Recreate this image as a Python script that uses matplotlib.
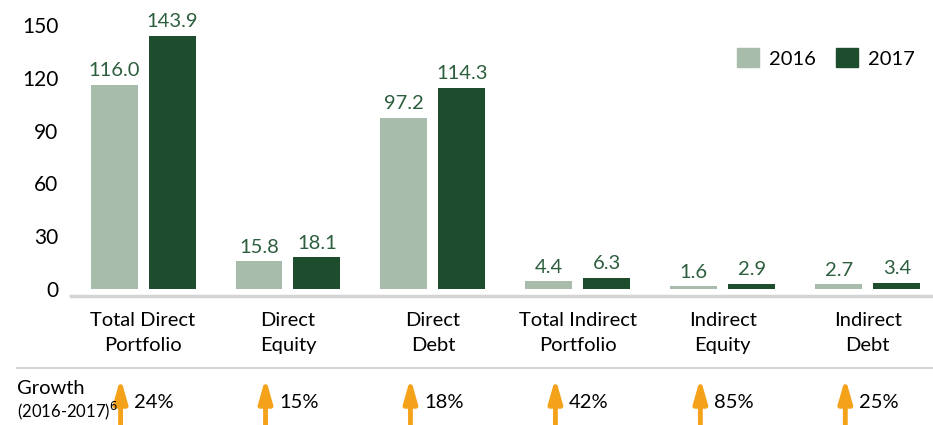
import matplotlib.pyplot as plt
from matplotlib.patches import Patch

plt.rcParams['font.family'] = ['Lato', 'DejaVu Sans']

# Data
categories = ['Total Direct\nPortfolio', 'Direct\nEquity', 'Direct\nDebt',
              'Total Indirect\nPortfolio', 'Indirect\nEquity', 'Indirect\nDebt']
values_2016 = [116.0, 15.8, 97.2, 4.4, 1.6, 2.7]
values_2017 = [143.9, 18.1, 114.3, 6.3, 2.9, 3.4]
growth = ['24%', '15%', '18%', '42%', '85%', '25%']
yticks = [0, 30, 60, 90, 120, 150]

c16 = '#a8bcac'
c17 = '#1e4d2d'
label_col = '#2d5e3e'
arrow_col = '#f5a21b'

fig = plt.figure(figsize=(9.33, 4.25), dpi=100)
ax = fig.add_axes([71 / 933, (425 - 296) / 425, 1 - 71 / 933, 286 / 425])

x = range(len(categories))
w = 0.324
off = 0.2
b16 = ax.bar([i - off for i in x], values_2016, width=w, color=c16)
b17 = ax.bar([i + off for i in x], values_2017, width=w, color=c17)

for bars, vals in ((b16, values_2016), (b17, values_2017)):
    for b, v in zip(bars, vals):
        ax.annotate(f'{v:.1f}', (b.get_x() + b.get_width() / 2, v),
                    xytext=(0, 4), textcoords='offset points',
                    ha='center', va='bottom', fontsize=14.5, color=label_col)

ax.set_xlim(-0.497, 5.45)
ax.set_ylim(-4, 158.5)
ax.set_yticks(yticks)
ax.tick_params(axis='y', length=0, pad=9, labelsize=15)
ax.set_xticks([])
for s in ('left', 'right', 'top'):
    ax.spines[s].set_visible(False)
ax.spines['bottom'].set_color('#d4d4d4')
ax.spines['bottom'].set_linewidth(2.5)

# category labels under the axis
for i, cat in enumerate(categories):
    ax.annotate(cat, (i, 1 - 333 / 425), xycoords=('data', 'figure fraction'),
                ha='center', va='center', fontsize=14.5, linespacing=1.55)

# separator line
fig.add_artist(plt.Line2D([17 / 933, 1], [1 - 368 / 425] * 2,
                          color='#d4d4d4', lw=1.5))

# growth row
fig.text(17 / 933, 1 - 388 / 425, 'Growth', fontsize=14.5, va='center')
fig.text(17 / 933, 1 - 411 / 425, '(2016-2017)$^{6}$', fontsize=12, va='center')
for i, g in enumerate(growth):
    ax.annotate('', xy=(i - 0.155, 1 - 378 / 425), xytext=(i - 0.155, 0),
                xycoords=('data', 'figure fraction'),
                textcoords=('data', 'figure fraction'),
                arrowprops=dict(arrowstyle='-|>,head_width=0.4,head_length=1.4',
                                color=arrow_col, lw=3.5, shrinkA=0, shrinkB=0),
                annotation_clip=False)
    ax.annotate(g, (i - 0.06, 1 - 402 / 425), xycoords=('data', 'figure fraction'),
                ha='left', va='center', fontsize=14.5, annotation_clip=False)

handles = [Patch(color=c16, label='2016'), Patch(color=c17, label='2017')]
ax.legend(handles=handles, loc='upper right', bbox_to_anchor=(1.0, 0.93),
          ncol=2, frameon=False, fontsize=14.5, handlelength=1.1,
          handleheight=1.1, columnspacing=1.0, handletextpad=0.5)

fig.savefig('out.png', dpi=100)
